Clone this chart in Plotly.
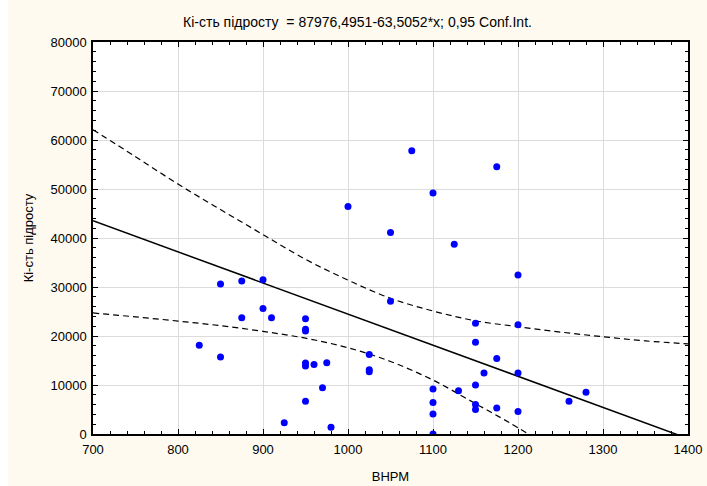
import plotly.graph_objects as go

# Scatter data
bhpm = [825, 850, 850, 875, 875, 900, 900, 910, 925, 950, 950, 950, 950, 950, 950,
        960, 975, 970, 980, 1000, 1050, 1050, 1025, 1025, 1025, 1075, 1175, 1100,
        1125, 1200, 1150, 1200, 1150, 1175, 1160, 1200, 1150, 1100, 1130, 1100,
        1100, 1100, 1150, 1150, 1175, 1200, 1260, 1280]
pidrist = [18100, 30600, 15700, 31200, 23700, 31500, 25600, 23700, 2300, 23500, 21400,
           21000, 14500, 13900, 6700, 14200, 14550, 9450, 1400, 46450, 41100, 27100,
           16250, 13100, 12700, 57800, 54550, 49200, 38700, 32450, 22600, 22300,
           18700, 15400, 12450, 12450, 10000, 9200, 8850, 6450, 4100, 0, 6000, 5000,
           5300, 4600, 6700, 8500]

# Regression from the title
intercept = 87976.4951
slope = -63.5052
line_x = [700, 1400]

# 0.95 confidence band
upper_x = [700, 750, 800, 850, 900, 950, 1000, 1050, 1100, 1150, 1200, 1250, 1300, 1350, 1400]
upper_y = [62100, 56600, 51000, 45800, 40700, 35650, 31400, 27700, 25100, 23100, 21900,
           20800, 19850, 19000, 18400]
lower_x = [700, 750, 800, 850, 900, 950, 1000, 1050, 1100, 1150, 1190, 1212]
lower_y = [24700, 23900, 23050, 22100, 20950, 19550, 17600, 14800, 11000, 6200, 2300, 0]

fit_y = [intercept + slope * v for v in line_x]

fig = go.Figure()
dash_style = dict(color="black", width=1.2, dash="6px,4px")
fig.add_trace(go.Scatter(x=upper_x, y=upper_y, mode="lines", line=dict(shape="spline", **dash_style)))
fig.add_trace(go.Scatter(x=lower_x, y=lower_y, mode="lines", line=dict(shape="spline", **dash_style)))
fig.add_trace(go.Scatter(x=line_x, y=fit_y, mode="lines", line=dict(color="black", width=1.5)))
fig.add_trace(go.Scatter(x=bhpm, y=pidrist, mode="markers",
                         marker=dict(color="#0000FF", size=7, line=dict(width=0))))

cream = "#FFFAEF"
font = dict(family="Liberation Sans, Arial", size=13, color="black")
axis_common = dict(showline=True, linecolor="black", linewidth=1.5, mirror="allticks",
                   ticks="inside", ticklen=5, tickcolor="black", tickwidth=1,
                   showgrid=True, gridcolor="#DCDCDC", gridwidth=1, zeroline=False,
                   automargin=False, tickfont=font)

fig.update_layout(
    width=699, height=486,
    paper_bgcolor=cream, plot_bgcolor="white",
    showlegend=False,
    margin=dict(l=85, r=19, t=42, b=52),
    title=dict(text="Кі-сть підросту  = 87976,4951-63,5052*x; 0,95 Conf.Int.",
               x=0.5, xanchor="center", y=1 - 22 / 486, yanchor="middle",
               font=dict(family="Liberation Sans, Arial", size=14, color="black")),
    xaxis=dict(range=[700, 1400], dtick=100, tick0=700, tickformat="d", ticklabelstandoff=3,
               minor=dict(dtick=20, ticks="inside", ticklen=3, tickcolor="black", showgrid=False),
               title=dict(text="ВНРМ", standoff=16, font=font),
               **axis_common),
    yaxis=dict(range=[0, 80000], dtick=10000, tick0=0, tickformat="d", ticklabelstandoff=2,
               minor=dict(dtick=2000, ticks="inside", ticklen=3, tickcolor="black", showgrid=False),
               title=dict(text="Кі-сть підросту", standoff=14, font=font),
               **axis_common),
)

fig.write_html("out.html",
               post_script="document.body.style.margin='0 0 0 8px';document.body.style.overflow='hidden';")
